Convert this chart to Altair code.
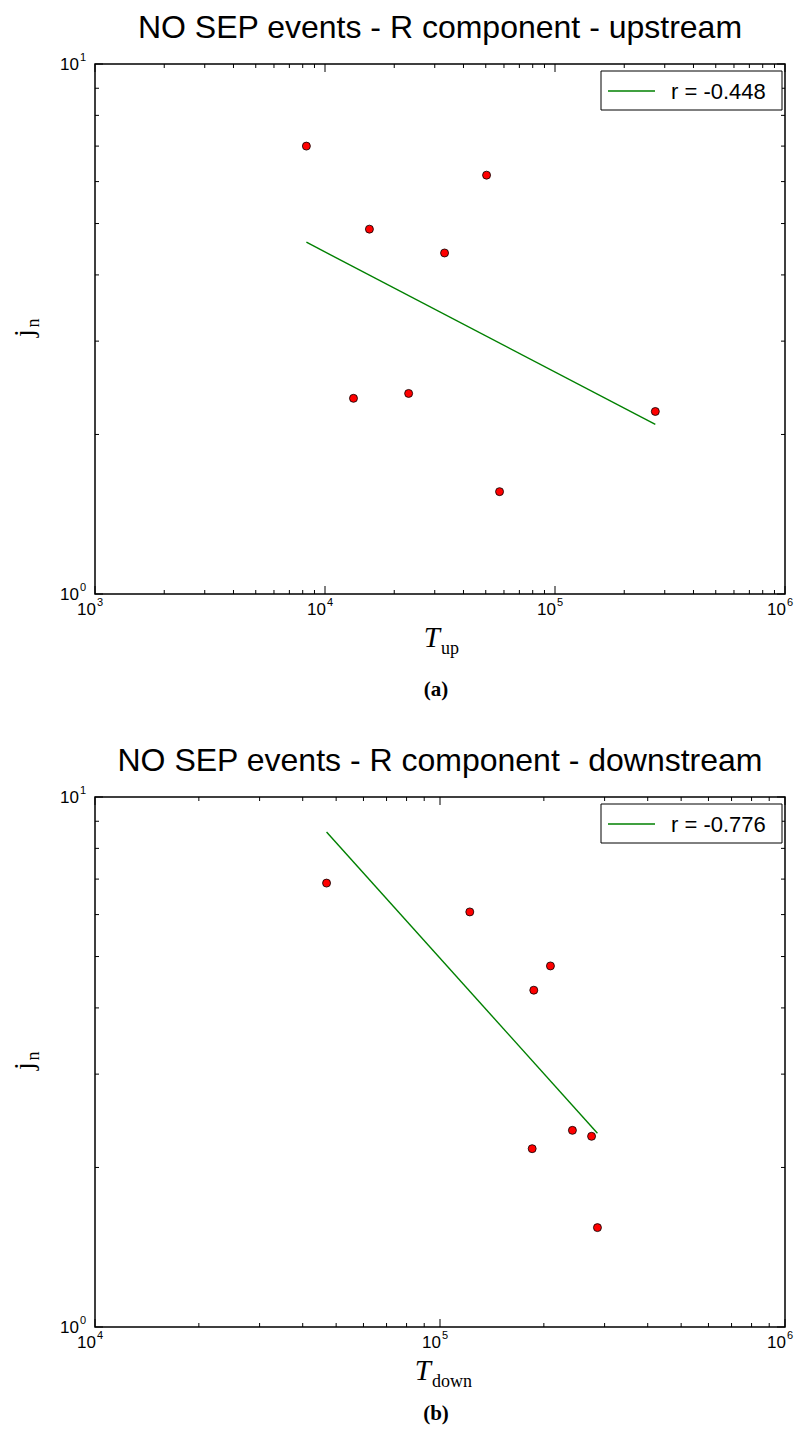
import altair as alt
import pandas as pd

# ---------------- data ----------------
a_x = [8300, 15600, 33100, 50400, 13300, 23100, 57400, 273000]
a_y = [7.0, 4.88, 4.40, 6.17, 2.34, 2.39, 1.56, 2.21]
a_fit_x = [8300, 273000]
a_fit_y = [4.61, 2.09]
a_label = "r = -0.448"

b_x = [46900, 122000, 209000, 187000, 242000, 275000, 185000, 286000]
b_y = [6.88, 6.07, 4.80, 4.32, 2.35, 2.29, 2.17, 1.54]
b_fit_x = [46900, 286000]
b_fit_y = [8.59, 2.32]
b_label = "r = -0.776"

a_xdomain = [1e3, 1e6]
b_xdomain = [1e4, 1e6]
ydomain = [1, 10]

# tick values and tick labels (base "10" + exponent)
a_xmajor = [1e3, 1e4, 1e5, 1e6]
a_xexp = ["3", "4", "5", "6"]
a_xminor = [2e3, 3e3, 4e3, 5e3, 6e3, 7e3, 8e3, 9e3,
            2e4, 3e4, 4e4, 5e4, 6e4, 7e4, 8e4, 9e4,
            2e5, 3e5, 4e5, 5e5, 6e5, 7e5, 8e5, 9e5]
b_xmajor = [1e4, 1e5, 1e6]
b_xexp = ["4", "5", "6"]
b_xminor = [2e4, 3e4, 4e4, 5e4, 6e4, 7e4, 8e4, 9e4,
            2e5, 3e5, 4e5, 5e5, 6e5, 7e5, 8e5, 9e5]
ymajor = [1, 10]
yexp = ["0", "1"]
yminor = [2, 3, 4, 5, 6, 7, 8, 9]

W, H = 690, 530
MAJ, MIN = 8, 4
SANS = "Liberation Sans"
SERIF = "Liberation Serif"


def text_layer(txt, x, y, size, font=SERIF, style="normal", weight="normal",
               align="center", angle=0):
    return alt.Chart(alt.Data(values=[{"t": txt}])).mark_text(
        font=font, fontSize=size, fontStyle=style, fontWeight=weight,
        align=align, baseline="alphabetic", angle=angle, color="black"
    ).encode(x=alt.value(x), y=alt.value(y), text="t:N")


def panel(px, py, fx, fy, label, xdomain, xmajor, xexp, xminor, title, sub,
          cap, t_right, sub_left, cap_y):
    xs = alt.Scale(type="log", domain=xdomain, nice=False)
    ys = alt.Scale(type="log", domain=ydomain, nice=False)
    pts = pd.DataFrame({"x": px, "y": py})
    fit = pd.DataFrame({"x": fx, "y": fy})

    line = alt.Chart(fit).mark_line(strokeWidth=1.4, color="#008000").encode(
        x=alt.X("x:Q", scale=xs, axis=None),
        y=alt.Y("y:Q", scale=ys, axis=None),
    )
    dots = alt.Chart(pts).mark_point(
        filled=True, fill="red", stroke="black", strokeWidth=0.8,
        size=64, shape="circle", opacity=1
    ).encode(
        x=alt.X("x:Q", scale=xs, axis=None),
        y=alt.Y("y:Q", scale=ys, axis=None),
    )

    layers = [line, dots]
    # tick marks drawn inside the frame on all four sides
    for vals, L in ((xminor, MIN), (xmajor, MAJ)):
        d = pd.DataFrame({"v": vals})
        base = alt.Chart(d).mark_rule(color="black", strokeWidth=1)
        layers.append(base.encode(x=alt.X("v:Q", scale=xs, axis=None),
                                  y=alt.value(H), y2=alt.value(H - L)))
        layers.append(base.encode(x=alt.X("v:Q", scale=xs, axis=None),
                                  y=alt.value(0), y2=alt.value(L)))
    for vals, L in ((yminor, MIN), (ymajor, MAJ)):
        d = pd.DataFrame({"v": vals})
        base = alt.Chart(d).mark_rule(color="black", strokeWidth=1)
        layers.append(base.encode(y=alt.Y("v:Q", scale=ys, axis=None),
                                  x=alt.value(0), x2=alt.value(L)))
        layers.append(base.encode(y=alt.Y("v:Q", scale=ys, axis=None),
                                  x=alt.value(W), x2=alt.value(W - L)))

    # tick labels 10^n
    xl = pd.DataFrame({"v": xmajor, "e": xexp})
    layers.append(alt.Chart(xl).mark_text(
        font=SANS, fontSize=17, align="right", baseline="alphabetic",
        dx=1, color="black").encode(
        x=alt.X("v:Q", scale=xs, axis=None), y=alt.value(H + 21),
        text=alt.value("10")))
    layers.append(alt.Chart(xl).mark_text(
        font=SANS, fontSize=11, align="left", baseline="alphabetic",
        dx=2, color="black").encode(
        x=alt.X("v:Q", scale=xs, axis=None), y=alt.value(H + 12),
        text="e:N"))
    yl = pd.DataFrame({"v": ymajor, "e": yexp})
    layers.append(alt.Chart(yl).mark_text(
        font=SANS, fontSize=17, align="right", baseline="alphabetic",
        dx=-16, dy=6, color="black").encode(
        y=alt.Y("v:Q", scale=ys, axis=None), x=alt.value(0),
        text=alt.value("10")))
    layers.append(alt.Chart(yl).mark_text(
        font=SANS, fontSize=11, align="left", baseline="alphabetic",
        dx=-15, dy=-3, color="black").encode(
        y=alt.Y("v:Q", scale=ys, axis=None), x=alt.value(0),
        text="e:N"))

    # legend box
    layers.append(alt.Chart(alt.Data(values=[{}])).mark_rect(
        fill="white", stroke="black", strokeWidth=1).encode(
        x=alt.value(506), x2=alt.value(W - 3),
        y=alt.value(7), y2=alt.value(46)))
    layers.append(alt.Chart(alt.Data(values=[{}])).mark_rule(
        color="#008000", strokeWidth=1.4).encode(
        x=alt.value(513), x2=alt.value(560),
        y=alt.value(27), y2=alt.value(27)))
    layers.append(text_layer(label, 576, 35, 22, font=SANS, align="left"))

    # axis titles and caption
    layers.append(text_layer("T", t_right, H + 53, 29, style="italic",
                             align="right"))
    layers.append(text_layer(sub, sub_left, H + 60, 18, align="left"))
    layers.append(text_layer("j", -62, 269, 28, angle=270))
    layers.append(text_layer("n", -56, 259, 18, angle=270))
    layers.append(text_layer(cap, 341, H + cap_y, 21, weight="bold"))

    return alt.layer(*layers).properties(
        width=W, height=H,
        title=alt.TitleParams(title, font=SANS, fontSize=32,
                              fontWeight="normal", anchor="middle",
                              color="black", offset=7, frame="group"),
    )


pa = panel(a_x, a_y, a_fit_x, a_fit_y, a_label, a_xdomain, a_xmajor, a_xexp,
           a_xminor, "NO SEP events - R component - upstream", "up", "(a)",
           345, 346, 102)
pb = panel(b_x, b_y, b_fit_x, b_fit_y, b_label, b_xdomain, b_xmajor, b_xexp,
           b_xminor, "NO SEP events - R component - downstream", "down", "(b)",
           336, 337, 93)

chart = alt.vconcat(pa, pb, spacing=203, bounds="flush").resolve_scale(
    x="independent", y="independent"
).configure(
    background="white",
    padding={"left": 2, "top": 3, "right": 0, "bottom": 0},
    view=alt.ViewConfig(stroke="black", strokeWidth=1.5),
)

chart.save("out.html", embed_options={"renderer": "svg", "actions": False})
